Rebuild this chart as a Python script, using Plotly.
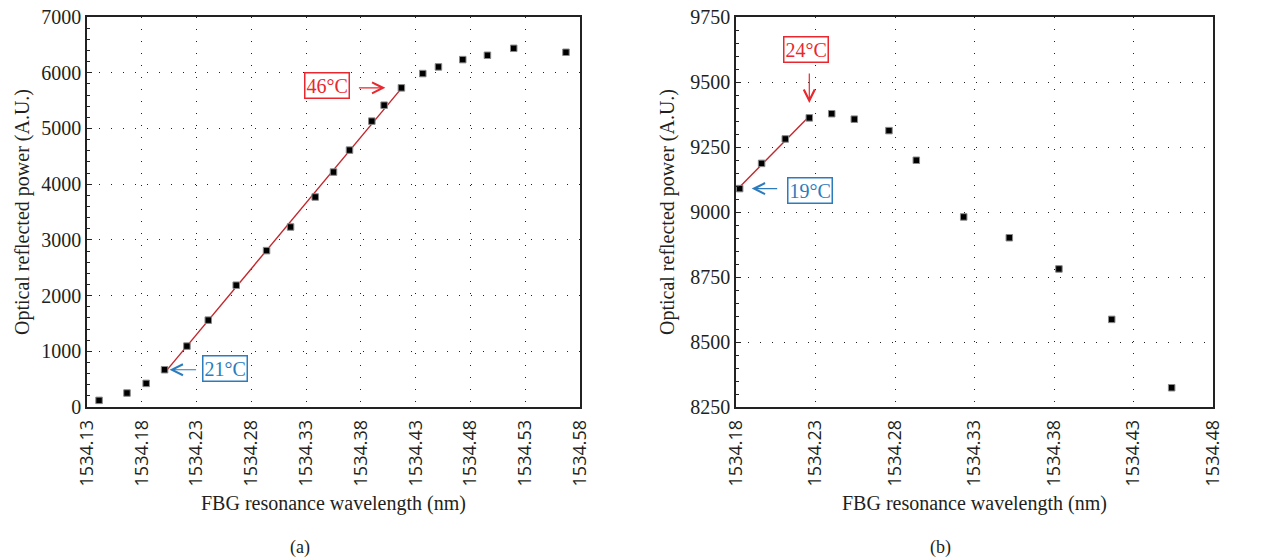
import numpy as np
import plotly.graph_objects as go

# ---------------- data ----------------
wl_a = [1534.141, 1534.1665, 1534.184, 1534.2008, 1534.2212, 1534.2407, 1534.2662,
        1534.2939, 1534.3158, 1534.3383, 1534.355, 1534.3696, 1534.390, 1534.4012,
        1534.417, 1534.4365, 1534.4508, 1534.473, 1534.4955, 1534.5195, 1534.5672]
pw_a = [119, 251, 424, 669, 1093, 1559, 2186, 2807, 3231, 3769, 4217, 4611, 5131,
        5417, 5728, 5985, 6104, 6235, 6313, 6438, 6367]
fit_a_range = (3, 14)          # 21 °C .. 46 °C (indices)

wl_b = [1534.1823, 1534.1961, 1534.211, 1534.2261, 1534.2402, 1534.2544, 1534.2762,
        1534.2934, 1534.3232, 1534.3519, 1534.3831, 1534.4163, 1534.454]
pw_b = [9090, 9187, 9281, 9362, 9378, 9357, 9313, 9199, 8981, 8901, 8781, 8587, 8324]
fit_b_range = (0, 3)           # 19 °C .. 24 °C (indices)

xticks_a = [1534.13, 1534.18, 1534.23, 1534.28, 1534.33, 1534.38, 1534.43, 1534.48, 1534.53, 1534.58]
xticks_b = [1534.18, 1534.23, 1534.28, 1534.33, 1534.38, 1534.43, 1534.48]
yticks_a = [0, 1000, 2000, 3000, 4000, 5000, 6000, 7000]
yticks_b = [8250, 8500, 8750, 9000, 9250, 9500, 9750]

x_title = "FBG resonance wavelength (nm)"
y_title = "Optical reflected power (A.U.)"

# ---------------- style ----------------
W, H = 1284, 559
SERIF = "Liberation Serif, Times New Roman, serif"
SANS = "Open Sans, Liberation Sans, sans-serif"
TXT = "#231f20"
RED = "#e8282e"
BLUE = "#2b7bbd"
FIT = "#c1272d"


def px(x):
    return x / W


def py(y):
    return 1 - y / H


def fit_line(wl, pw, rng):
    i0, i1 = rng
    xs = np.array(wl[i0:i1 + 1])
    ys = np.array(pw[i0:i1 + 1])
    k, b = np.polyfit(xs, ys, 1)
    xe = np.array([xs[0], xs[-1]])
    return xe, k * xe + b


fig = go.Figure()

marker = dict(symbol="square", size=6.5, color="black", line=dict(color="#8a8a8a", width=1))

fx, fy = fit_line(wl_a, pw_a, fit_a_range)
fig.add_trace(go.Scatter(x=fx, y=fy, mode="lines", line=dict(color=FIT, width=1.4),
                         xaxis="x", yaxis="y", showlegend=False))
fig.add_trace(go.Scatter(x=wl_a, y=pw_a, mode="markers", marker=marker,
                         xaxis="x", yaxis="y", showlegend=False))

fx, fy = fit_line(wl_b, pw_b, fit_b_range)
fig.add_trace(go.Scatter(x=fx, y=fy, mode="lines", line=dict(color=FIT, width=1.4),
                         xaxis="x2", yaxis="y2", showlegend=False))
fig.add_trace(go.Scatter(x=wl_b, y=pw_b, mode="markers", marker=marker,
                         xaxis="x2", yaxis="y2", showlegend=False))

grid = dict(showgrid=True, gridcolor="#222", gridwidth=1, griddash="1px,11px")
axis_common = dict(showline=True, linecolor="#222", linewidth=1.5, mirror=True,
                   zeroline=False, automargin=False, **grid)

xcommon = dict(tickmode="array", tickangle=-90, tickformat=".2f", ticklabelstandoff=4,
               tickfont=dict(family=SANS, size=18, color=TXT), ticks="", **axis_common)
ycommon = dict(tickmode="array", ticks="inside", ticklen=5, tickcolor="#222",
               tickfont=dict(family=SERIF, size=20, color=TXT), **axis_common)

ydom = [py(407), py(17)]

fig.update_layout(
    width=W, height=H,
    margin=dict(l=0, r=0, t=0, b=0),
    paper_bgcolor="white", plot_bgcolor="white",
    xaxis=dict(domain=[px(87), px(580)], range=[xticks_a[0], xticks_a[-1]],
               tickvals=xticks_a, anchor="y", **xcommon),
    yaxis=dict(domain=ydom, range=[yticks_a[0], yticks_a[-1]], tickvals=yticks_a,
               anchor="x", minor=dict(ticks="inside", ticklen=3, dtick=200, tickcolor="#222",
                                      showgrid=False), **ycommon),
    xaxis2=dict(domain=[px(736), px(1213)], range=[xticks_b[0], xticks_b[-1]],
                tickvals=xticks_b, anchor="y2", **xcommon),
    yaxis2=dict(domain=ydom, range=[yticks_b[0], yticks_b[-1]], tickvals=yticks_b,
                anchor="x2", minor=dict(ticks="inside", ticklen=3, dtick=50, tickcolor="#222",
                                        showgrid=False), **ycommon),
)

ann = []


def text_at(text, cx, cy, size=20, angle=0, color=TXT):
    return dict(text=text, x=px(cx), y=py(cy), xref="paper", yref="paper",
                xanchor="center", yanchor="middle", showarrow=False, textangle=angle,
                font=dict(family=SERIF, size=size, color=color))


# axis titles and captions
for cx in (333, 974):
    ann.append(text_at(x_title, cx, 503))
for cx in (22, 667):
    ann.append(text_at(y_title, cx, 212, angle=-90))
ann.append(text_at("(a)", 300, 547, size=18))
ann.append(text_at("(b)", 940, 547, size=18))


def label(text, cx, cy, color):
    d = text_at(text, cx, cy, size=20, color=color)
    d.update(bordercolor=color, borderwidth=1.5, borderpad=1, bgcolor="white")
    return d


def arrow(xr, yr, x, y, ax, ay, standoff, color):
    return dict(text="", x=x, y=y, xref=xr, yref=yr, ax=ax, ay=ay, axref="pixel", ayref="pixel",
                showarrow=True, arrowhead=5, arrowsize=1.8, arrowwidth=1.2,
                arrowcolor=color, standoff=standoff)


ann.append(label("46°C", 326.5, 85, RED))
ann.append(label("21°C", 225, 368.5, BLUE))
ann.append(label("24°C", 805.5, 49.5, RED))
ann.append(label("19°C", 809.5, 190, BLUE))

ia0, ia1 = fit_a_range
ib0, ib1 = fit_b_range
ann.append(arrow("x", "y", wl_a[ia1], pw_a[ia1], -44, 0, 16, RED))
ann.append(arrow("x", "y", wl_a[ia0], pw_a[ia0], 33, 0, 5, BLUE))
ann.append(arrow("x2", "y2", wl_b[ib1], pw_b[ib1], 0, -46, 15, RED))
ann.append(arrow("x2", "y2", wl_b[ib0], pw_b[ib0], 39, 0, 12, BLUE))

fig.update_layout(annotations=ann)

fig.write_html("out.html", config={"displayModeBar": False},
               post_script="document.body.style.margin='0';")
